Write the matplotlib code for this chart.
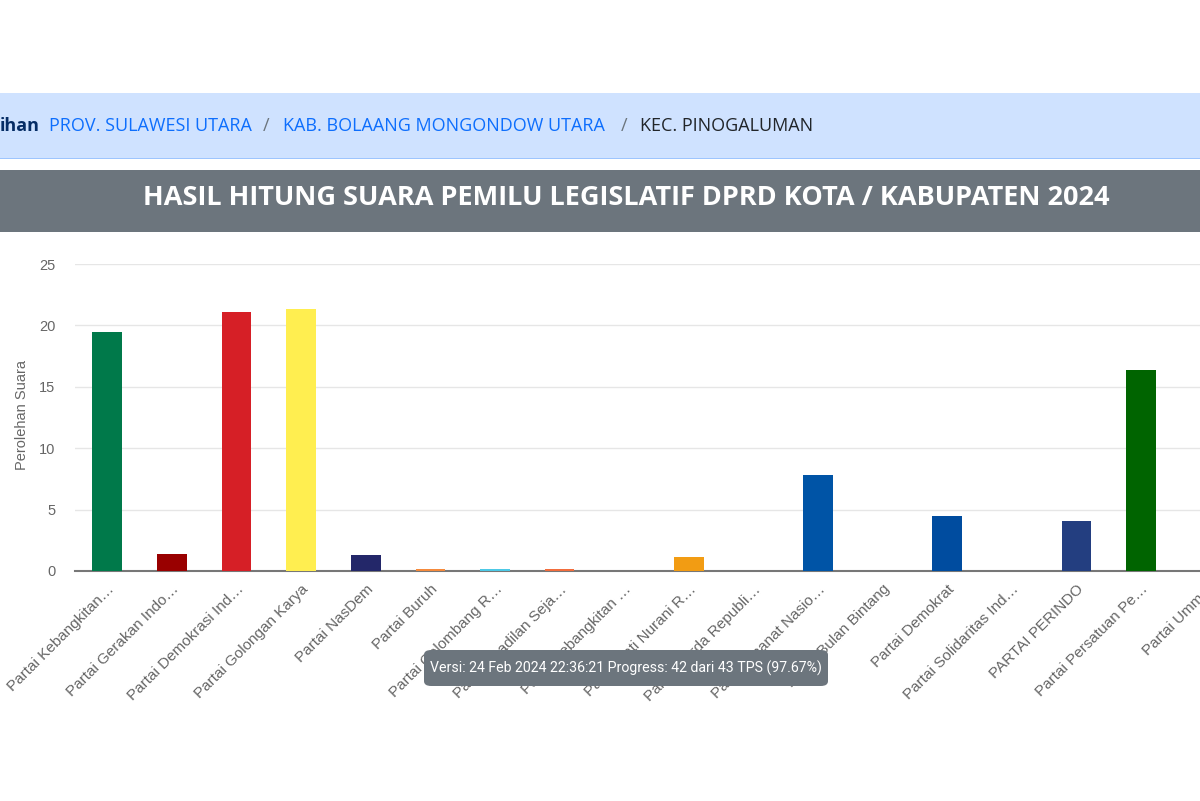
import matplotlib.pyplot as plt
from matplotlib.patches import Rectangle, FancyBboxPatch

# Data dari grafik
partai = [
    "Partai Kebangkitan…", "Partai Gerakan Indo…", "Partai Demokrasi Ind…",
    "Partai Golongan Karya", "Partai NasDem", "Partai Buruh",
    "Partai Gelombang R…", "Partai Keadilan Seja…", "Partai Kebangkitan …",
    "Partai Hati Nurani R…", "Partai Garda Republi…", "Partai Amanat Nasio…",
    "Partai Bulan Bintang", "Partai Demokrat", "Partai Solidaritas Ind…",
    "PARTAI PERINDO", "Partai Persatuan Pe…", "Partai Ummat",
]
suara = [19.5, 1.4, 21.1, 21.3, 1.3, 0.15, 0.15, 0.15, 0.0,
         1.1, 0.0, 7.8, 0.0, 4.5, 0.0, 4.1, 16.4, 0.0]
warna = ["#00794a", "#990000", "#d61f26", "#ffee50", "#232769", "#f58a3c",
         "#4dc9e6", "#f26d3d", "#a0a0a0", "#f29c13", "#a0a0a0", "#0054a6",
         "#a0a0a0", "#004c9f", "#a0a0a0", "#233e80", "#006400", "#a0a0a0"]
y_ticks = [0, 5, 10, 15, 20, 25]

W, H = 1200, 801
fig = plt.figure(figsize=(12, 8.01), dpi=100)
fig.patch.set_facecolor("white")

# Breadcrumb
fig.patches.append(Rectangle((0, 1 - 158 / H), 1, 65 / H, transform=fig.transFigure,
                             facecolor="#cfe2ff", edgecolor="none", zorder=0))
fig.patches.append(Rectangle((0, 1 - 159 / H), 1, 1.5 / H, transform=fig.transFigure,
                             facecolor="#9ec5fe", edgecolor="none", zorder=0))
yb = 1 - 126 / H
fs_b = 13
fig.text(0 / W, yb, "ihan", fontsize=fs_b, fontweight="bold", color="#052c65",
         va="center", family="Open Sans")
fig.text(49 / W, yb, "PROV. SULAWESI UTARA", fontsize=fs_b, color="#0d6efd",
         va="center", family="Open Sans")
fig.text(263 / W, yb, "/", fontsize=fs_b, color="#6c757d", va="center", family="Open Sans")
fig.text(283 / W, yb, "KAB. BOLAANG MONGONDOW UTARA", fontsize=fs_b, color="#0d6efd",
         va="center", family="Open Sans")
fig.text(621 / W, yb, "/", fontsize=fs_b, color="#6c757d", va="center", family="Open Sans")
fig.text(640 / W, yb, "KEC. PINOGALUMAN", fontsize=fs_b, color="#212529",
         va="center", family="Open Sans")

# Judul
fig.patches.append(Rectangle((0, 1 - 232 / H), 1, 62 / H, transform=fig.transFigure,
                             facecolor="#6c757d", edgecolor="none", zorder=0))
fig.text(626 / W, 1 - 198 / H, "HASIL HITUNG SUARA PEMILU LEGISLATIF DPRD KOTA / KABUPATEN 2024",
         fontsize=19.5, fontweight="bold", color="white", ha="center", va="center",
         family="Open Sans")

# Grafik
ax = fig.add_axes([75 / W, (H - 571) / H, 1163 / W, 307 / H])
x = list(range(len(partai)))
ax.bar(x, suara, width=0.46, color=warna, zorder=3)
ax.set_xlim(-0.5, len(partai) - 0.5)
ax.set_ylim(0, 25)
ax.set_yticks(y_ticks)
ax.grid(axis="y", color="#e6e6e6", linewidth=1, zorder=0)
for s in ["top", "right", "left"]:
    ax.spines[s].set_visible(False)
ax.spines["bottom"].set_color("#777777")
ax.spines["bottom"].set_linewidth(1.5)
ax.spines["bottom"].set_zorder(2)
ax.tick_params(axis="y", length=0, pad=14, labelsize=10.5, labelcolor="#666666")
ax.tick_params(axis="x", length=0, pad=8)
ax.set_xticks(x)
ax.set_xticklabels(partai, rotation=45, ha="right", rotation_mode="anchor",
                   fontsize=11, color="#666666", family="Liberation Sans")
for lbl in ax.get_yticklabels():
    lbl.set_family("Liberation Sans")

fig.text(22 / W, 1 - 415 / H, "Perolehan Suara", rotation=90, fontsize=10.5,
         color="#666666", ha="center", va="center", family="Liberation Sans")

# Tooltip
tip = FancyBboxPatch((424 / W, 1 - 686 / H), 404 / W, 36 / H,
                     boxstyle="round,pad=0,rounding_size=0.006",
                     transform=fig.transFigure, facecolor="#6c757d",
                     edgecolor="none", zorder=10)
fig.patches.append(tip)
fig.text(626 / W, 1 - 668 / H,
         "Versi: 24 Feb 2024 22:36:21 Progress: 42 dari 43 TPS (97.67%)",
         fontsize=10.2, color="white", ha="center", va="center", zorder=11,
         family="Roboto")

fig.savefig("out.png", dpi=100)
